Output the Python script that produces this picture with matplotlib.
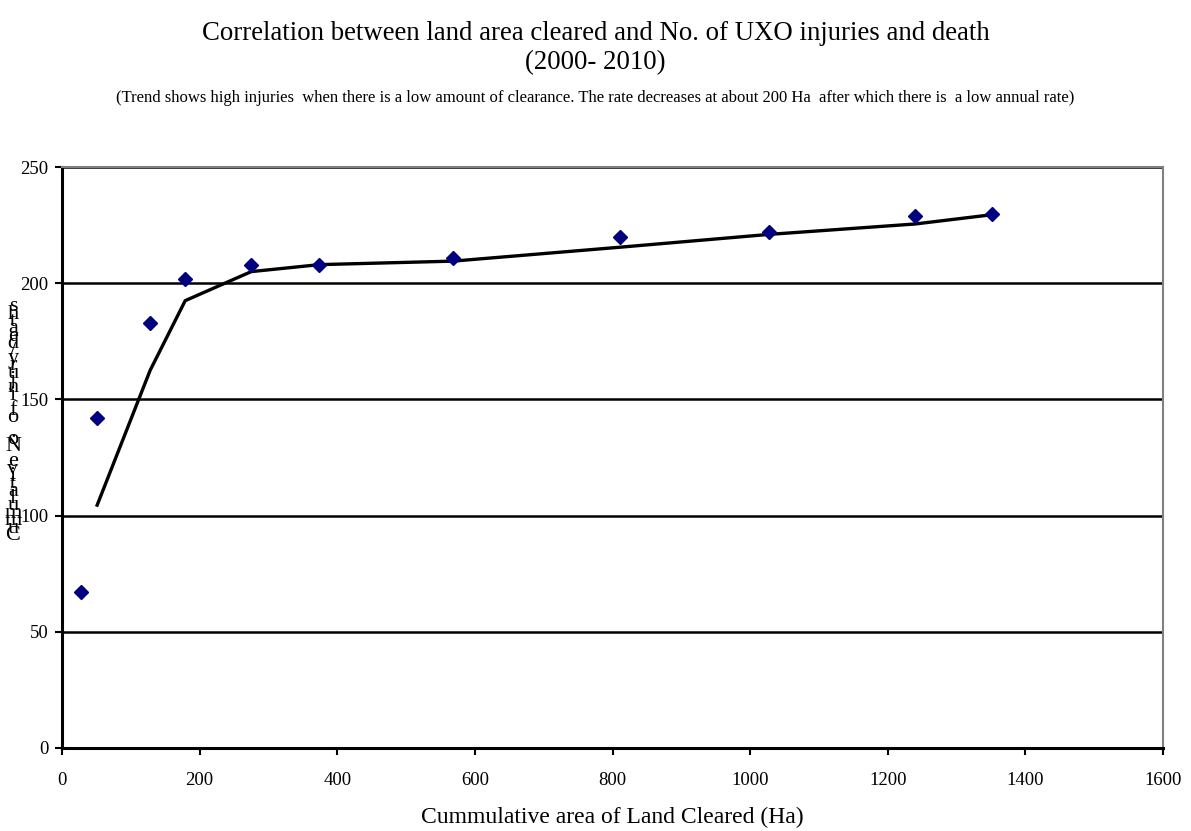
import numpy as np
import matplotlib
matplotlib.use("Agg")
import matplotlib.pyplot as plt

# cumulative land cleared (Ha) vs cumulative injuries/deaths, 2000-2010
area_cleared = [28, 51, 128, 179, 275, 374, 568, 811, 1027, 1240, 1352]
casualties = [67, 142, 183, 202, 208, 208, 211, 220, 222, 229, 230]

title = "Correlation between land area cleared and No. of UXO injuries and death"
period = "(2000- 2010)"
subtitle = ("(Trend shows high injuries  when there is a low amount of clearance. The rate decreases "
            "at about 200 Ha  after which there is  a low annual rate)")
xlabel = "Cummulative area of Land Cleared (Ha)"
ylabel = "Cummulative No. of injury/deaths"

plt.rcParams["font.family"] = ["Liberation Serif", "DejaVu Serif"]

fig = plt.figure(figsize=(11.91, 8.31), dpi=100)
ax = fig.add_axes([0.0521, 0.0999, 0.9244, 0.6991])

# 2-period moving average trend line
x = np.array(area_cleared, dtype=float)
y = np.array(casualties, dtype=float)
trend = (y[1:] + y[:-1]) / 2
ax.plot(x[1:], trend, color="black", lw=2.4, zorder=3)
ax.plot(x, y, linestyle="none", marker="D", markersize=7, color="#000080", zorder=4)

ax.set_xlim(0, 1600)
ax.set_ylim(0, 250)
ax.set_xticks(np.arange(0, 1601, 200))
ax.set_yticks(np.arange(0, 251, 50))
ax.yaxis.grid(True, color="black", lw=1.8)
ax.set_axisbelow(True)
ax.tick_params(axis="both", direction="out", length=5, width=1.5, labelsize=13.5, color="black")
ax.tick_params(axis="x", pad=12)
ax.tick_params(axis="y", pad=5)

for side in ("left", "bottom"):
    ax.spines[side].set_color("black")
    ax.spines[side].set_linewidth(2.2)
for side in ("top", "right"):
    ax.spines[side].set_color("#808080")
    ax.spines[side].set_linewidth(1.5)

ax.set_xlabel(xlabel, fontsize=17, labelpad=13)

fig.text(0.5, 1 - 34 / 831, title, ha="center", va="center", fontsize=19.3)
fig.text(0.5, 1 - 63 / 831, period, ha="center", va="center", fontsize=19.3)
fig.text(0.5, 1 - 98 / 831, subtitle, ha="center", va="center", fontsize=12)

# y label: upright glyphs stacked bottom to top
fig.text(13 / 1191, 1 - 545 / 831, "\n".join(reversed(ylabel)), ha="center", va="bottom",
         fontsize=16, linespacing=0.17, multialignment="center")

fig.savefig("out.png", dpi=100)
